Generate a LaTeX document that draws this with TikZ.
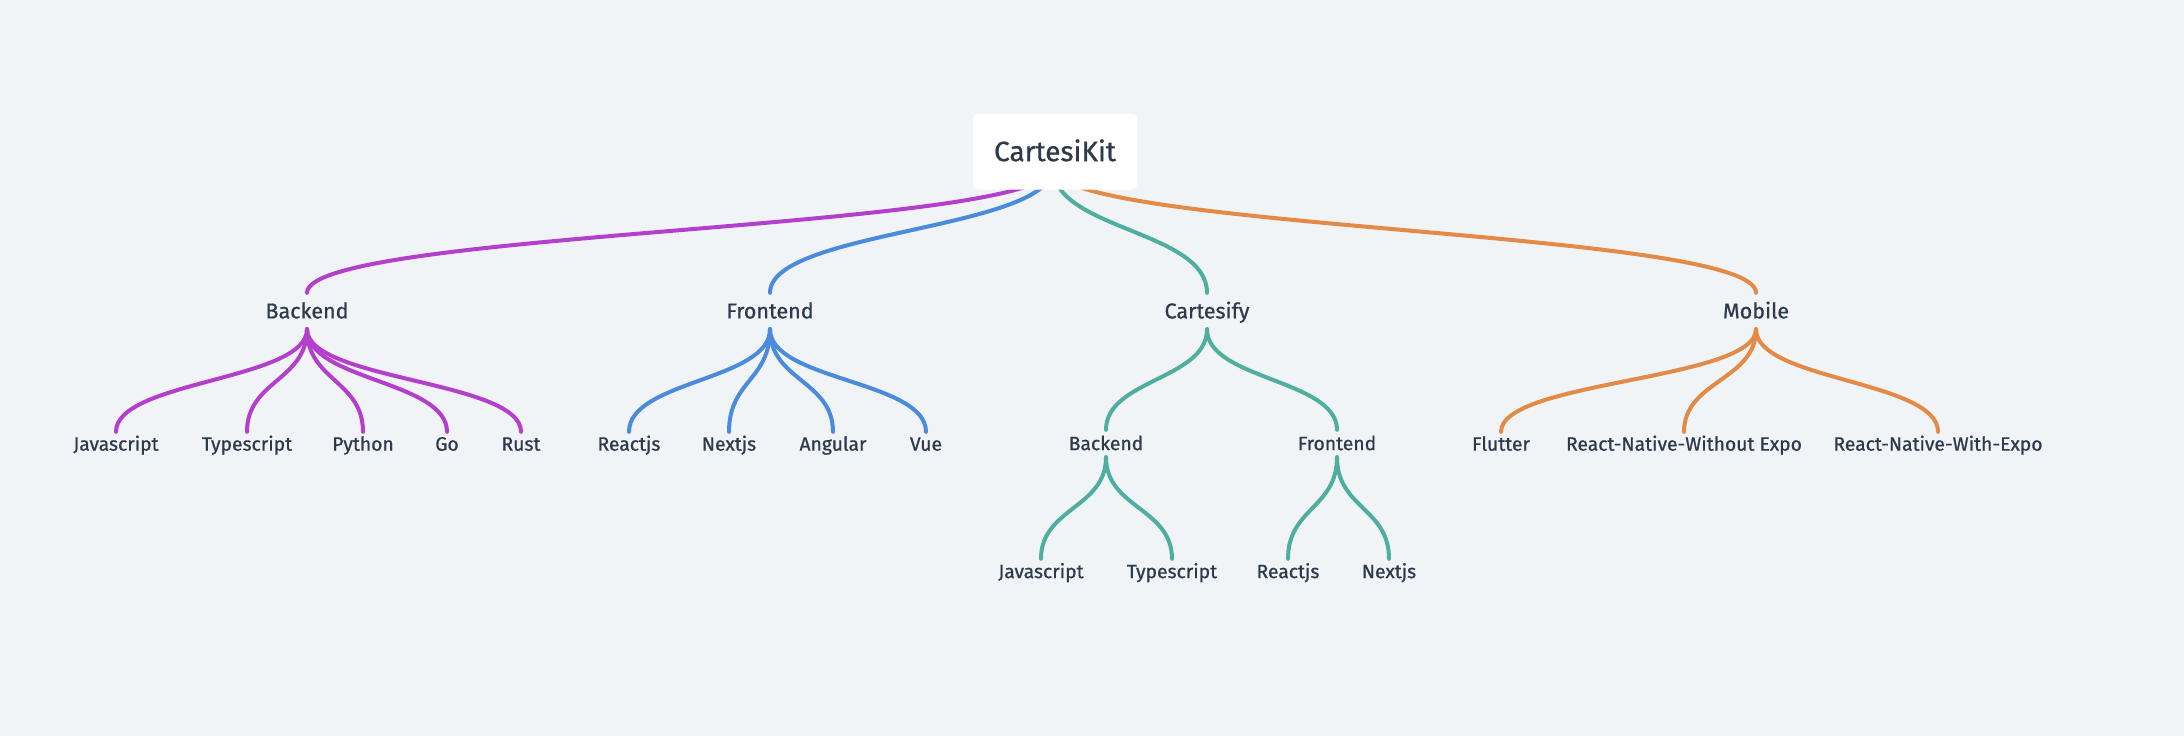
\documentclass[tikz,border=0pt]{standalone}
\usepackage{fontspec}
\setmainfont{Fira Sans}[FakeBold=0.8]
\usetikzlibrary{calc}
\pgfdeclarelayer{back}
\pgfdeclarelayer{links}
\pgfsetlayers{back,links,main}
\definecolor{bgc}{HTML}{F0F4F7}
\definecolor{txt}{HTML}{2E3A4B}
\definecolor{cpurp}{HTML}{B33FCC}
\definecolor{cblue}{HTML}{4A8BDB}
\definecolor{cteal}{HTML}{4FAE9F}
\definecolor{corange}{HTML}{E38A46}
\begin{document}
\begin{tikzpicture}[x=1pt,y=-1pt,
  tree/.style={to path={let \p1=(\tikztostart), \p2=(\tikztotarget) in
     .. controls (\x1,{0.5*\y1+0.5*\y2}) and (\x2,{0.5*\y1+0.5*\y2}) .. (\tikztotarget)}},
  link/.style={line width=4pt, line cap=round},
  lpurp/.style={link, draw=cpurp},
  lblue/.style={link, draw=cblue},
  lteal/.style={link, draw=cteal},
  lorange/.style={link, draw=corange},
  lab/.style={inner sep=0pt, text=txt, text depth=0pt},
  rootbox/.style={lab, fill=white, rounded corners=6pt, minimum width=164pt,
     minimum height=76pt, font=\fontsize{28}{28}\selectfont, text height=19.3pt},
  lone/.style={lab, font=\fontsize{21.5}{21.5}\selectfont, text height=14.8pt, minimum height=36pt},
  leaf/.style={lab, font=\fontsize{19.3}{19.3}\selectfont, text height=13.3pt, minimum height=24pt},
  subn/.style={lab, font=\fontsize{19.3}{19.3}\selectfont, text height=13.3pt, minimum height=27pt},
  leaftwo/.style={lab, font=\fontsize{19.3}{19.3}\selectfont, text height=13.3pt, minimum height=25pt}
]
\useasboundingbox (0,0) rectangle (2184,736);
\begin{pgfonlayer}{back}
  \fill[bgc] (0,0) rectangle (2184,736);
\end{pgfonlayer}

\node[rootbox] (root) at (1055,151.5) {CartesiKit};

\node[lone] (be) at (307,311) {Backend};
\node[lone] (fe) at (770,311) {Frontend};
\node[lone] (cf) at (1207,311) {Cartesify};
\node[lone] (mo) at (1756,311) {Mobile};

\node[leaf] (bjs) at (116,444) {Javascript};
\node[leaf] (bts) at (247,444) {Typescript};
\node[leaf] (bpy) at (363,444) {Python};
\node[leaf] (bgo) at (447,444) {Go};
\node[leaf] (brs) at (521,444) {Rust};

\node[leaf] (frj) at (629,444) {Reactjs};
\node[leaf] (fnj) at (729,444) {Nextjs};
\node[leaf] (fan) at (833,444) {Angular};
\node[leaf] (fvu) at (926,444) {Vue};

\node[leaf] (mfl) at (1501,444) {Flutter};
\node[leaf] (mrw) at (1684,444) {React-Native-Without Expo};
\node[leaf] (mre) at (1938,444) {React-Native-With-Expo};

\node[subn] (cbe) at (1106,443.5) {Backend};
\node[subn] (cfe) at (1337,443.5) {Frontend};

\node[leaftwo] (cjs) at (1041,571.5) {Javascript};
\node[leaftwo] (cts) at (1172,571.5) {Typescript};
\node[leaftwo] (crj) at (1288,571.5) {Reactjs};
\node[leaftwo] (cnj) at (1389,571.5) {Nextjs};

\begin{pgfonlayer}{links}
  \draw[lpurp]   ([xshift=-2pt,yshift=-16pt]root.center) to[tree] (be.north);
  \draw[lblue]   ([xshift=-2pt,yshift=-16pt]root.center) to[tree] (fe.north);
  \draw[lteal]   ([xshift=-2pt,yshift=-16pt]root.center) to[tree] (cf.north);
  \draw[lorange] ([xshift=-2pt,yshift=-16pt]root.center) to[tree] (mo.north);

  \foreach \k in {bjs,bts,bpy,bgo,brs}
    \draw[lpurp] (be.south) to[tree] (\k.north);
  \foreach \k in {frj,fnj,fan,fvu}
    \draw[lblue] (fe.south) to[tree] (\k.north);
  \foreach \k in {mfl,mrw,mre}
    \draw[lorange] (mo.south) to[tree] (\k.north);
  \foreach \k in {cbe,cfe}
    \draw[lteal] (cf.south) to[tree] (\k.north);
  \foreach \k in {cjs,cts}
    \draw[lteal] (cbe.south) to[tree] (\k.north);
  \foreach \k in {crj,cnj}
    \draw[lteal] (cfe.south) to[tree] (\k.north);
\end{pgfonlayer}
\end{tikzpicture}
\end{document}
